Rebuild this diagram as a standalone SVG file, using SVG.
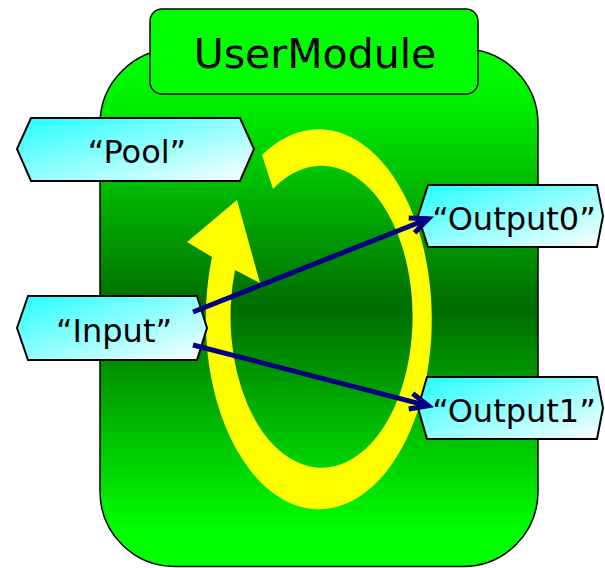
<svg xmlns="http://www.w3.org/2000/svg" width="605" height="568" viewBox="0 0 605 568">
  <defs>
    <linearGradient id="bodyFill" x1="0" y1="0" x2="0" y2="1">
      <stop offset="0" stop-color="#00ff00"/>
      <stop offset="0.1" stop-color="#00f200"/>
      <stop offset="0.5" stop-color="#006b00"/>
      <stop offset="0.93" stop-color="#00ff00"/>
      <stop offset="1" stop-color="#00ff00"/>
    </linearGradient>
    <linearGradient id="portFill" x1="0" y1="0" x2="1" y2="1">
      <stop offset="0" stop-color="#22ffff"/>
      <stop offset="1" stop-color="#ffffff"/>
    </linearGradient>
    <marker id="head" markerUnits="userSpaceOnUse" markerWidth="30" markerHeight="30" viewBox="-25 -15 30 30" refX="0" refY="0" orient="auto" overflow="visible">
      <path d="M-18,-8 L0,0 L-18,8" fill="none" stroke="#000080" stroke-width="5" stroke-linejoin="miter"/>
    </marker>
    <style>
      .port { fill: url(#portFill); stroke: #000; stroke-width: 2; }
      .label { font-family: "DejaVu Sans", Verdana, sans-serif; font-size: 32px; fill: #000; text-anchor: middle; }
      .wire { stroke: #000080; stroke-width: 5; fill: none; marker-end: url(#head); }
    </style>
  </defs>

  <!-- module body -->
  <g id="module-body">
    <rect x="100" y="49" width="438" height="517.5" rx="75" ry="75" fill="url(#bodyFill)" stroke="#000" stroke-width="1.5"/>
  </g>

  <!-- module title tab -->
  <g id="module-title">
    <rect x="150" y="9" width="328" height="85" rx="12" ry="12" fill="#00ff00" stroke="#000" stroke-width="1.5"/>
    <text x="315" y="68" font-family="DejaVu Sans, Verdana, sans-serif" font-size="41" text-anchor="middle">UserModule</text>
  </g>

  <!-- processing loop -->
  <g id="loop">
    <path d="M262,155 A113,190 0 1 1 212,257 L187,242 L237,200 L260,283 L235,270 A91,151 0 1 0 273,189 Z" fill="#ffff00"/>
  </g>

  <g id="pool">
    <polygon class="port" points="17,149 31,118 240,118 254,149 240,181 31,181"/>
    <text class="label" x="137" y="163">“Pool”</text>
  </g>

  <g id="input">
    <polygon class="port" points="17,328 28,296 197,296 207,328 197,360 28,360"/>
    <text class="label" x="114" y="342">“Input”</text>
  </g>

  <g id="output0">
    <polygon class="port" points="418,216 428,185 597,185 603,216 597,247 428,247"/>
    <text class="label" x="514" y="230">“Output0”</text>
  </g>

  <g id="output1">
    <polygon class="port" points="418,408 427,377 597,377 603,408 597,439 427,439"/>
    <text class="label" x="514" y="422">“Output1”</text>
  </g>

  <!-- data flow -->
  <g id="connectors">
    <line class="wire" x1="193" y1="312" x2="428.4" y2="218.8"/>
    <line class="wire" x1="193" y1="345" x2="428.2" y2="405.8"/>
  </g>
</svg>
